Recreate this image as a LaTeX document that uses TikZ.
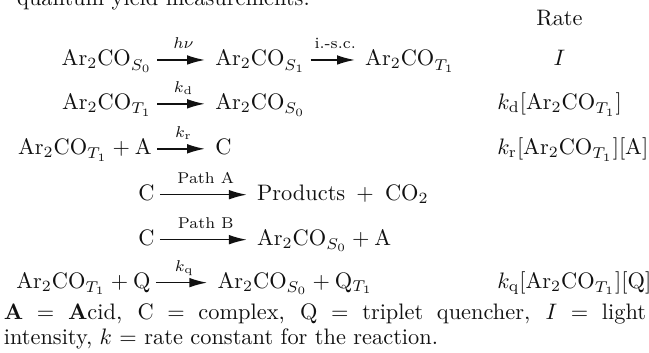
\documentclass[tikz,border=0pt]{standalone}
\usepackage{tikz}
\usetikzlibrary{arrows.meta}
\usepackage{amsmath}
\definecolor{ink}{HTML}{111111}
\newcommand{\arco}{\mathrm{Ar_2CO}}
\tikzset{
  >=Latex,
  %% nodes
  species/.style  = {anchor=west, inner sep=0pt, text height=7.5pt, text depth=2.5pt,
                     text=ink},
  reactant/.style = {species, anchor=east},
  ratecol/.style  = {species},
  %% arrows
  rxn/.style      = {-{Latex[length=8pt,width=4.3pt]}, draw=ink, line width=0.7pt,
                     shorten <=2.2pt, shorten >=4.4pt},
  %% annotations
  lbl/.style      = {anchor=base, inner sep=0pt, yshift=5.2pt, font=\scriptsize,
                     text=ink},
  note/.style     = {anchor=base west, inner sep=0pt, text width=287pt, align=justify,
                     font=\fontsize{10}{11.2}\selectfont, text=ink},
}

\begin{document}
\begin{tikzpicture}[x=1pt, y=1pt]
\useasboundingbox (0,0) rectangle (290,-157.6);

%% ============ cut-off line of the page above ============
\begin{scope}
  \clip (0,0) rectangle (290,-157.6);
  \node[anchor=base west, inner sep=0pt, text=ink] (prev) at (7.5,-2.3) {quantum yield measurements.};
\end{scope}

%% ============ rate column ============
\node[anchor=base, inner sep=0pt, text=ink] (ratehd) at (250,-11.2) {Rate};

%% ============ excitation ============
\node[reactant] (s0)  at (68,-26.8)  {$\arco_{S_0}$};
\node[species]  (s1)  at (96,-26.8)  {$\arco_{S_1}$};
\node[species]  (t1)  at (163,-26.8) {$\arco_{T_1}$};
\draw[rxn] (s0) -- node[lbl] {$h\nu$} (s1);
\draw[rxn] (s1) -- node[lbl] {i.-s.c.} (t1);
\node[ratecol, anchor=center] (rI) at (250,-26.8) {$I$};

%% ============ decay ============
\node[reactant] (dT)  at (68,-46.4)  {$\arco_{T_1}$};
\node[species]  (dS)  at (96,-46.4)  {$\arco_{S_0}$};
\draw[rxn] (dT) -- node[lbl] {$k_\mathrm{d}$} (dS);
\node[ratecol] (rd) at (222,-46.4) {$k_\mathrm{d}[\arco_{T_1}]$};

%% ============ complex formation ============
\node[reactant] (cTA) at (68,-66.5)  {$\arco_{T_1} + \mathrm{A}$};
\node[species]  (cC)  at (96,-66.5)  {C};
\draw[rxn] (cTA) -- node[lbl] {$k_\mathrm{r}$} (cC);
\node[ratecol] (rr) at (222,-66.5) {$k_\mathrm{r}[\arco_{T_1}][\mathrm{A}]$};

%% ============ path A / path B ============
\node[reactant] (aC)  at (69.2,-87)   {C};
\node[species]  (aP)  at (114.7,-87)  {Products\, $+$\, $\mathrm{CO_2}$};
\draw[rxn] (aC) -- node[lbl] {Path A} (aP);

\node[reactant] (bC)  at (69.2,-107.1)  {C};
\node[species]  (bS)  at (114.7,-107.1) {$\arco_{S_0} + \mathrm{A}$};
\draw[rxn] (bC) -- node[lbl] {Path B} (bS);

%% ============ quenching ============
\node[reactant] (qTQ) at (67.5,-126.3) {$\arco_{T_1} + \mathrm{Q}$};
\node[species]  (qSQ) at (97,-126.3)   {$\arco_{S_0} + \mathrm{Q}_{T_1}$};
\draw[rxn] (qTQ) -- node[lbl] {$k_\mathrm{q}$} (qSQ);
\node[ratecol] (rq) at (222,-126.3) {$k_\mathrm{q}[\arco_{T_1}][\mathrm{Q}]$};

%% ============ key ============
\node[note] (key) at (1.5,-142.9)
  {\textbf{A} $=$ \textbf{A}cid, C $=$ complex, Q $=$ triplet quencher, $I$ $=$ light\linebreak
   intensity, $k$ $=$ rate constant for the reaction.};

\end{tikzpicture}
\end{document}
